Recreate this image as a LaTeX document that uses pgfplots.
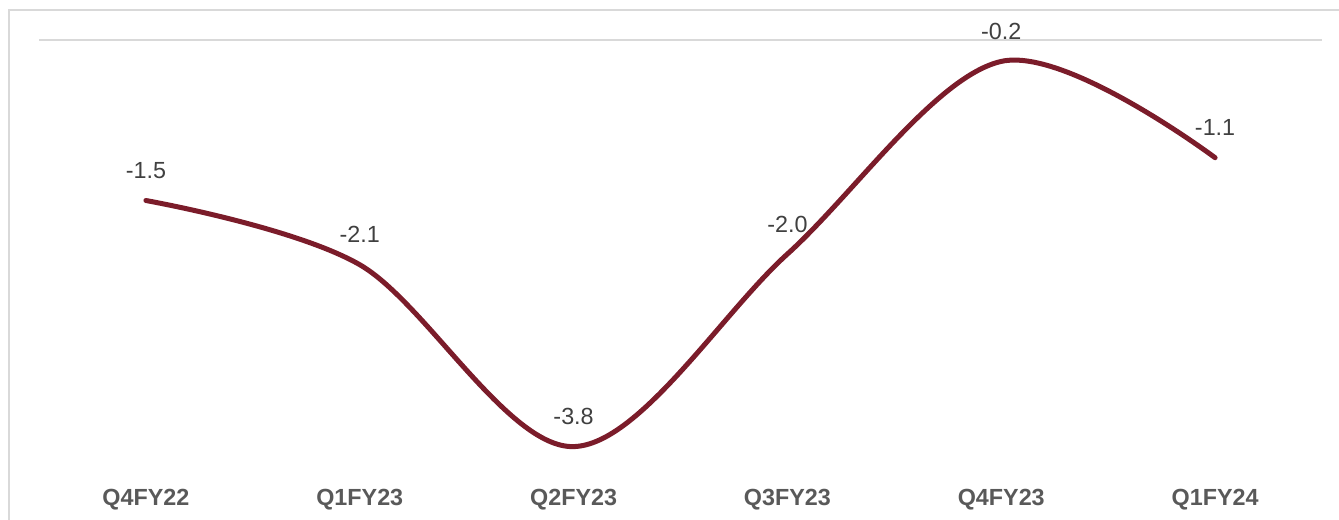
\documentclass[border=0pt]{standalone}
\usepackage{pgfplots}
\pgfplotsset{compat=1.18}
\usepackage{fontspec}
\setmainfont{Liberation Sans}
\definecolor{linecol}{HTML}{7B1C2A}
\definecolor{gridcol}{HTML}{D9D9D9}
\definecolor{lblcol}{HTML}{404040}
\definecolor{tickcol}{HTML}{595959}
\begin{document}
\begin{tikzpicture}[x=0.75pt,y=0.75pt]
\useasboundingbox (0,0) rectangle (1339,519);
\draw[gridcol, line width=1.5pt] (9,-20) -- (9,509) -- (1360,509);
\begin{axis}[
  at={(29.25pt,38.25pt)}, anchor=south west,
  scale only axis,
  width=962.25pt, height=321pt,
  xmin=-0.5, xmax=5.5, ymin=-4, ymax=0,
  axis line style={draw=none},
  major tick length=0pt,
  ytick={0}, yticklabels={},
  ymajorgrids, grid style={gridcol, line width=1.5pt},
  xtick={0,1,2,3,4,5},
  xticklabels={Q4FY22,Q1FY23,Q2FY23,Q3FY23,Q4FY23,Q1FY24},
  xticklabel style={font=\fontsize{17.5}{21}\selectfont\bfseries, text=tickcol, yshift=-12pt},
  clip=false,
  point meta=explicit symbolic,
  nodes near coords,
  nodes near coords style={anchor=center, yshift=22.5pt, font=\fontsize{17.5}{21}\selectfont, text=lblcol},
]
\addplot[linecol, line width=3.75pt, smooth, tension=0.55, line cap=round] table[meta=lbl] {
x y lbl
0 -1.5 -1.5
1 -2.1 -2.1
2 -3.8 -3.8
3 -2.0 -2.0
4 -0.2 -0.2
5 -1.1 -1.1
};
\end{axis}
\end{tikzpicture}
\end{document}
